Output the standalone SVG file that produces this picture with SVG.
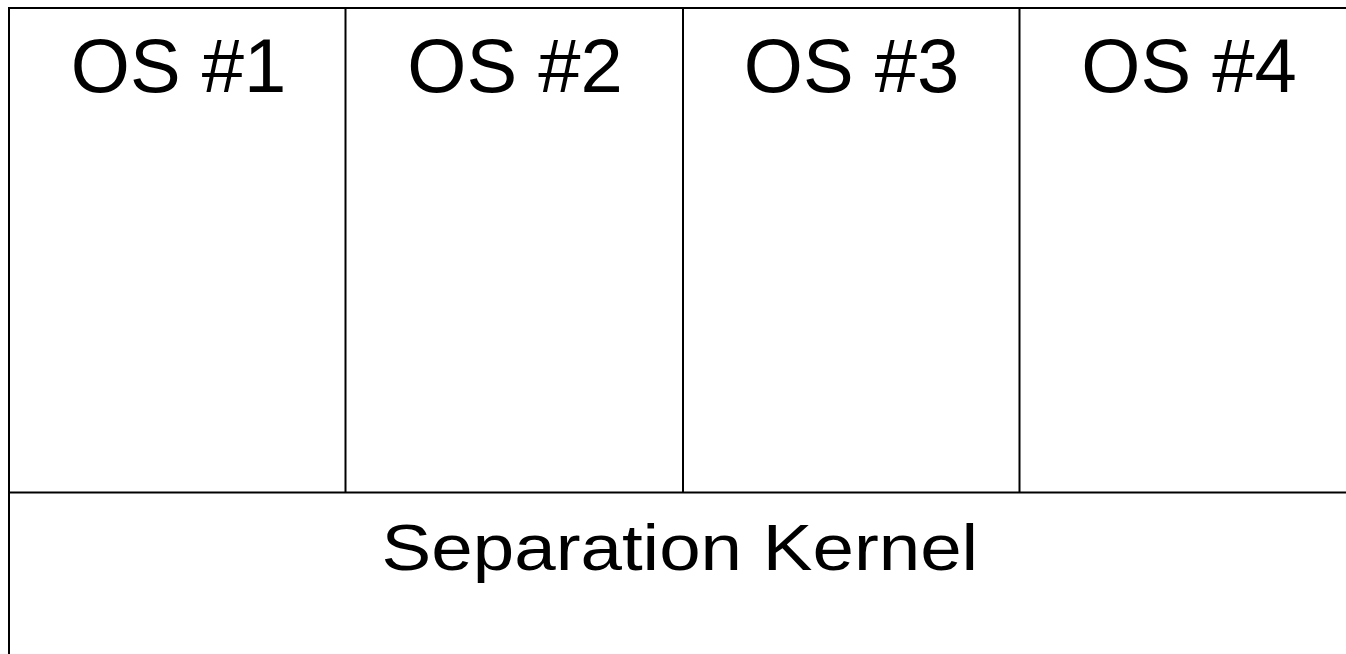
<svg xmlns="http://www.w3.org/2000/svg" width="1346" height="654" viewBox="0 0 1346 654">
<style>
.box{fill:#fff;stroke:#000;stroke-width:2}
.ln{stroke:#000;stroke-width:2;fill:none}
.os{font-family:"Liberation Sans",Arial,sans-serif;font-size:76px;fill:#000;text-anchor:middle}
.sk{font-family:"Liberation Sans",Arial,sans-serif;font-size:65px;fill:#000}
</style>
<rect width="1346" height="654" fill="#fff"/>
<g id="frame">
<rect class="box" x="9" y="8" width="1350" height="660"/>
</g>
<g id="connectors">
<line class="ln" x1="9" y1="492.5" x2="1360" y2="492.5"/>
<line class="ln" x1="345.5" y1="8" x2="345.5" y2="492.5"/>
<line class="ln" x1="683" y1="8" x2="683" y2="492.5"/>
<line class="ln" x1="1019.5" y1="8" x2="1019.5" y2="492.5"/>
</g>
<g id="os1"><text class="os" x="178.5" y="91.7">OS #1</text></g>
<g id="os2"><text class="os" x="515" y="91.7">OS #2</text></g>
<g id="os3"><text class="os" x="851.5" y="91.7">OS #3</text></g>
<g id="os4"><text class="os" x="1189" y="91.7">OS #4</text></g>
<g id="kernel"><text class="sk" x="381.6" y="570" textLength="596.6" lengthAdjust="spacingAndGlyphs">Separation Kernel</text></g>
</svg>
